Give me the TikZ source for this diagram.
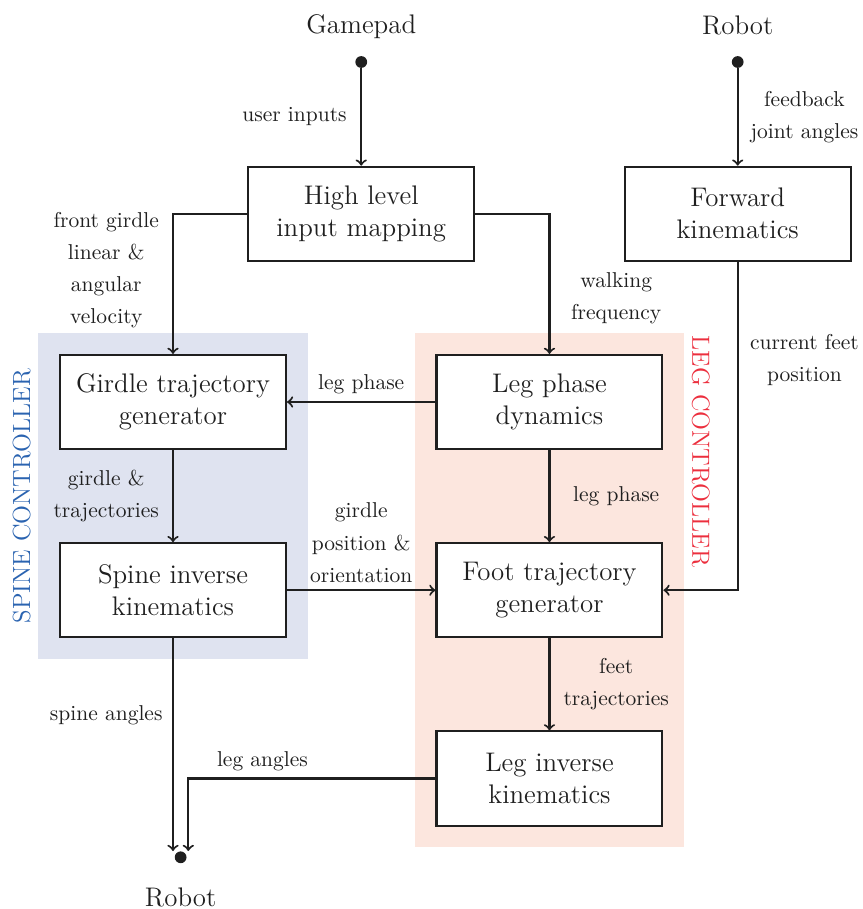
\documentclass[tikz,border=0pt]{standalone}
\usetikzlibrary{arrows,positioning,fit,backgrounds}
\definecolor{spinebg}{HTML}{DFE3F0}
\definecolor{legbg}{HTML}{FCE6DE}
\definecolor{spinecol}{HTML}{2A63B0}
\definecolor{legcol}{HTML}{EC2F3E}
\colorlet{ink}{black!88}
\tikzset{
    block/.style={draw=ink, line width=1pt, fill=white, minimum width=3.84cm, minimum height=1.6cm,
        align=center, text=ink, font=\fontsize{13}{15.5}\selectfont},
    lbl/.style={text width=2cm, align=center, text=ink, font=\fontsize{10.4}{15.5}\selectfont},
    term/.style={text=ink, font=\fontsize{13}{15}\selectfont},
    dot/.style={circle, fill=ink, inner sep=0pt, minimum size=0.2cm},
    flow/.style={->, line width=1pt, draw=ink},
    ctrl/.style={font=\fontsize{12}{14}\selectfont},
}

\begin{document}
\begin{tikzpicture}
    \useasboundingbox (-2.941,-8.619) rectangle (11.73,6.834);

    % blocks
    \node [block] (highlevel) at (3.2,3.2) {High level\\input mapping};
    \node [block] (fwdkin) at (9.6,3.2) {Forward\\kinematics};
    \node [block] (girdle) at (0,0) {Girdle trajectory\\generator};
    \node [block] (legphase) at (6.4,0) {Leg phase\\dynamics};
    \node [block] (spineik) at (0,-3.2) {Spine inverse\\kinematics};
    \node [block] (foottraj) at (6.4,-3.2) {Foot trajectory\\generator};
    \node [block] (legik) at (6.4,-6.4) {Leg inverse\\kinematics};

    % inputs and outputs
    \node [dot, label={[term, label distance=0.17cm]above:Gamepad}] (gamepad) at (3.2,5.78) {};
    \node [dot, label={[term, label distance=0.22cm]above:Robot}] (robotin) at (9.6,5.78) {};
    \node [dot, label={[term, label distance=0.28cm]below:Robot}] (robotout) at (0.13,-7.74) {};

    % controllers
    \begin{scope}[on background layer]
        \node [fit=(girdle)(spineik), inner sep=0.35cm, fill=spinebg] (spinebox) {};
        \node [fit=(legphase)(legik), inner sep=0.35cm, fill=legbg] (legbox) {};
    \end{scope}
    \node [ctrl, rotate=90, anchor=south, text=spinecol] (spinelbl) at (spinebox.west) {SPINE CONTROLLER};
    \node [ctrl, rotate=-90, anchor=south west, text=legcol, inner xsep=1pt] (leglbl) at (legbox.north east) {LEG CONTROLLER};

    \draw [flow] (gamepad) -- node [lbl, left] {user inputs} (highlevel);
    \draw [flow] (robotin) -- node [lbl, right] {feedback\\joint angles} (fwdkin);
    \draw [flow] (highlevel) -| node [lbl, left, pos=0.7] {front girdle\\linear \&\\angular\\velocity} (girdle);
    \draw [flow] (highlevel) -| node [lbl, right, pos=0.8] {walking\\frequency} (legphase);
    \draw [flow] (legphase) -- node [lbl, above] {leg phase} (girdle);
    \draw [flow] (girdle) -- node [lbl, left] {girdle \&\\trajectories} (spineik);
    \draw [flow] (legphase) -- node [lbl, right] {leg phase} (foottraj);
    \draw [flow] (spineik) -- node [lbl, above] {girdle\\position \&\\orientation} (foottraj);
    \draw [flow] (fwdkin) |- node [lbl, right, pos=0.15] {current feet\\position} (foottraj);
    \draw [flow] (foottraj) -- node [lbl, right] {feet\\trajectories} (legik);
    \draw [flow] (spineik) -- node [lbl, left, pos=0.36] {spine angles} (spineik |- robotout.north);
    \draw [flow] (legik) -| node [lbl, above, pos=0.35] {leg angles} ([xshift=0.13cm]robotout.north);
\end{tikzpicture}
\end{document}
